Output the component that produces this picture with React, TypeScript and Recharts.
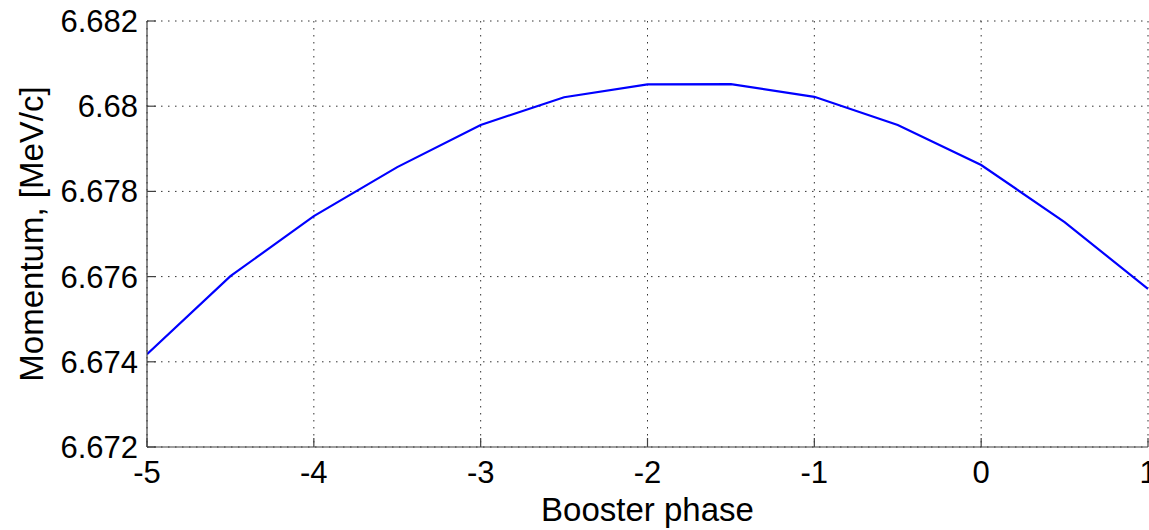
import React from "react";
import { LineChart, Line, XAxis, YAxis, CartesianGrid } from "recharts";

// Booster phase scan: beam momentum vs. booster phase
const phases = [-5, -4.5, -4, -3.5, -3, -2.5, -2, -1.5, -1, -0.5, 0, 0.5, 1];
const momentum = [
  6.67418, 6.67601, 6.67742, 6.67857, 6.67956, 6.68021, 6.68051, 6.68052,
  6.68022, 6.67956, 6.67862, 6.67728, 6.67571,
];
const xTicks = [-5, -4, -3, -2, -1, 0, 1];
const yTicks = [6.672, 6.674, 6.676, 6.678, 6.68, 6.682];
const yTickLabels = ["6.672", "6.674", "6.676", "6.678", "6.68", "6.682"];

const data = phases.map((p, i) => ({ phase: p, momentum: momentum[i] }));

const FONT = "'Liberation Sans', Arial, Helvetica, sans-serif";
const AXIS = "#404040";
const TICK_FONT = 31;
const LABEL_FONT = 33;

const XTick = (props: any) => {
  const { x, y, payload } = props;
  return (
    <g>
      <line x1={x} y1={y} x2={x} y2={y - 9} stroke={AXIS} strokeWidth={1.2} />
      <text x={x} y={y + 36} textAnchor="middle" fontFamily={FONT} fontSize={TICK_FONT} fill="#000">
        {String(payload.value)}
      </text>
    </g>
  );
};

const YTick = (props: any) => {
  const { x, y, payload } = props;
  const idx = yTicks.findIndex((t) => Math.abs(t - payload.value) < 1e-9);
  const label = idx >= 0 ? yTickLabels[idx] : String(payload.value);
  return (
    <g>
      <line x1={x} y1={y} x2={x + 9} y2={y} stroke={AXIS} strokeWidth={1.2} />
      <text x={x - 9} y={y + 11} textAnchor="end" fontFamily={FONT} fontSize={TICK_FONT} fill="#000">
        {label}
      </text>
    </g>
  );
};

export default function App() {
  return (
    <div style={{ position: "absolute", left: 0, top: 0, width: 1149, height: 530, background: "#fff" }}>
      <LineChart
        width={1149}
        height={530}
        data={data}
        margin={{ top: 21, right: 1, bottom: 0, left: 0 }}
      >
        <CartesianGrid stroke="#333" strokeWidth={1} strokeDasharray="1.5 5.5" />
        <XAxis
          dataKey="phase"
          type="number"
          domain={[-5, 1]}
          ticks={xTicks}
          height={83}
          tickSize={0}
          tickMargin={0}
          tickLine={false}
          axisLine={{ stroke: AXIS, strokeWidth: 1.2 }}
          tick={<XTick />}
          interval={0}
          allowDataOverflow
          label={{
            value: "Booster phase",
            position: "insideBottom",
            offset: 9,
            style: { fontFamily: FONT, fontSize: LABEL_FONT, fill: "#000" },
          }}
        />
        <YAxis
          type="number"
          domain={[6.672, 6.682]}
          ticks={yTicks}
          width={147}
          tickSize={0}
          tickMargin={0}
          tickLine={false}
          axisLine={{ stroke: AXIS, strokeWidth: 1.2 }}
          tick={<YTick />}
          interval={0}
          allowDataOverflow
          label={{
            value: "Momentum, [MeV/c]",
            angle: -90,
            position: "insideLeft",
            offset: 31,
            style: { fontFamily: FONT, fontSize: LABEL_FONT, fill: "#000", textAnchor: "middle" },
          }}
        />
        <Line
          type="linear"
          dataKey="momentum"
          stroke="#0000ff"
          strokeWidth={2.2}
          dot={false}
          isAnimationActive={false}
        />
      </LineChart>
    </div>
  );
}
